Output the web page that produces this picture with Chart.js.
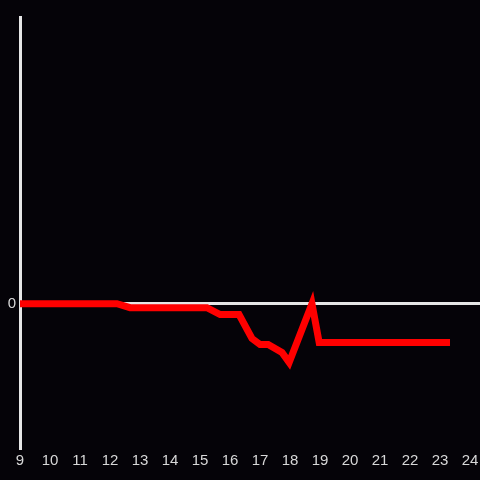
<!DOCTYPE html>
<html>
<head>
<meta charset="utf-8">
<script src="https://cdn.jsdelivr.net/npm/chart.js@4"></script>
<style>
  html, body { margin: 0; padding: 0; background: #050308; }
  #wrap { width: 480px; height: 480px; }
</style>
</head>
<body>
<div id="wrap"><canvas id="myChart"></canvas></div>
<script>
// hour of day and reading
var hours = [9, 12.23, 12.67, 15.23, 15.67, 16.3, 16.73, 17.0, 17.27, 17.73, 17.97, 18.73, 18.97, 23.33];
var values = [0, 0, -4, -4, -11, -11, -35, -41, -41, -49, -59, 0, -39, -39];
var xTicks = [9, 10, 11, 12, 13, 14, 15, 16, 17, 18, 19, 20, 21, 22, 23, 24];
var yTicks = [0];

var points = hours.map(function (h, i) { return {x: h, y: values[i]}; });

var ctx = document.getElementById('myChart').getContext('2d');
var myChart = new Chart(ctx, {
  type: 'line',
  data: {
    datasets: [{
      data: points,
      borderColor: '#ff0000',
      backgroundColor: '#ff0000',
      borderWidth: 7,
      pointRadius: 0,
      tension: 0,
      borderJoinStyle: 'miter'
    }]
  },
  options: {
    responsive: true,
    maintainAspectRatio: false,
    animation: false,
    layout: { padding: { top: 17, right: 0, left: 0, bottom: 0 } },
    plugins: { legend: { display: false }, tooltip: { enabled: false } },
    scales: {
      x: {
        type: 'linear',
        min: 9,
        max: 24.33,
        afterBuildTicks: function (axis) {
          axis.ticks = xTicks.map(function (v) { return {value: v}; });
        },
        afterFit: function (axis) {
          axis.height = 32;
          axis.paddingLeft = 0;
          axis.paddingRight = 0;
        },
        grid: { display: false, drawTicks: false, tickLength: 0 },
        border: { display: false },
        ticks: {
          color: '#d8d8d8',
          font: { size: 15 },
          padding: 4,
          maxRotation: 0,
          autoSkip: false
        }
      },
      y: {
        min: -145,
        max: 288,
        afterBuildTicks: function (axis) {
          axis.ticks = yTicks.map(function (v) { return {value: v}; });
        },
        afterFit: function (axis) {
          axis.width = 20;
          axis.paddingTop = 0;
          axis.paddingBottom = 0;
        },
        grid: {
          color: function (c) { return c.tick && c.tick.value === 0 ? '#e6e6e6' : 'rgba(0,0,0,0)'; },
          lineWidth: 3,
          drawTicks: false
        },
        border: { display: true, color: '#e6e6e6', width: 3 },
        ticks: {
          color: '#d8d8d8',
          font: { size: 15 },
          padding: 4
        }
      }
    }
  }
});
</script>
</body>
</html>
